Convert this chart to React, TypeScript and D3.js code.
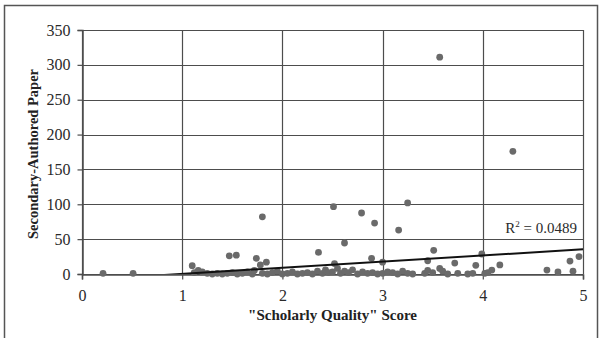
import React, { useEffect, useRef } from 'react';
import * as d3 from 'd3';

// scores on the x axis
const scores = [
  0.21, 0.51, 1.1, 1.16, 1.47, 1.54, 1.74, 1.78, 1.8, 1.84, 2.36, 2.51, 2.52, 2.62, 2.79, 2.89, 2.92,
  3.0, 3.16, 3.25, 3.45, 3.51, 3.57, 3.57, 3.72, 3.93, 3.99, 4.09, 4.17, 4.3, 4.64, 4.75, 4.87, 4.9, 4.96,
  1.12, 1.2, 1.25, 1.3, 1.35, 1.4, 1.45, 1.5, 1.55, 1.6, 1.65, 1.7, 1.72, 1.8, 1.85, 1.9, 1.95, 2.0,
  2.05, 2.1, 2.15, 2.2, 2.25, 2.3, 2.35, 2.4, 2.43, 2.46, 2.5, 2.55, 2.58, 2.62, 2.66, 2.7, 2.75, 2.8,
  2.85, 2.9, 2.95, 3.0, 3.05, 3.1, 3.15, 3.2, 3.25, 3.3, 3.42, 3.45, 3.5, 3.6, 3.65, 3.75, 3.85, 3.9,
  4.02, 4.05,
];
// secondary-authored papers
const papers = [
  1, 1, 12, 5, 26, 27, 22.5, 13, 82, 17, 31, 96.6, 15, 44.5, 87.5, 22.5, 73,
  17, 63, 102, 19, 34, 311, 8, 15.7, 12.5, 28.7, 5.7, 13, 176, 5.7, 3, 18.6, 4, 25,
  2, 3, 1, 0, 1, 0, 1, 2, 0, 1, 3, 0, 5, 1, 0, 2, 4, 0,
  1, 3, 0, 1, 2, 0, 4, 1, 6, 2, 3, 8, 1, 4, 2, 6, 0, 3,
  1, 2, 0, 1, 3, 2, 0, 4, 1, 0, 1, 5, 2, 4, 0, 1, 0, 1,
  1, 2,
];
const xTicks = [0, 1, 2, 3, 4, 5];
const yTicks = [0, 50, 100, 150, 200, 250, 300, 350];
// trendline as drawn (linear fit), and its R²
const trendX = [0.2, 5];
const trendY = [-6.9, 35.4];
const rSquared = '0.0489';

const App = () => {
  const ref = useRef<SVGSVGElement>(null);

  useEffect(() => {
    const width = 599;
    const height = 338;
    const margin = { top: 30, right: 16, bottom: 64, left: 82 };
    const svg = d3.select(ref.current);
    svg.selectAll('*').remove();

    const x = d3.scaleLinear().domain([0, 5]).range([margin.left, width - margin.right]);
    const y = d3.scaleLinear().domain([0, 350]).range([height - margin.bottom, margin.top]);
    const gridColor = '#4d4d4d';
    const font = '"Liberation Serif", "Times New Roman", serif';

    svg.append('rect').attr('width', width).attr('height', height).attr('fill', '#fff');
    // outer frame
    svg.append('rect')
      .attr('x', 4.5).attr('y', 5.5).attr('width', 593).attr('height', 340)
      .attr('fill', 'none').attr('stroke', '#555').attr('stroke-width', 1.5);

    // gridlines
    svg.append('g').selectAll('line').data(yTicks).enter().append('line')
      .attr('x1', x(0)).attr('x2', x(5))
      .attr('y1', d => Math.round(y(d)) + 0.5).attr('y2', d => Math.round(y(d)) + 0.5)
      .attr('stroke', gridColor).attr('stroke-width', 1.2);
    svg.append('g').selectAll('line').data(xTicks).enter().append('line')
      .attr('y1', y(0)).attr('y2', y(350))
      .attr('x1', d => Math.round(x(d)) + 0.5).attr('x2', d => Math.round(x(d)) + 0.5)
      .attr('stroke', gridColor).attr('stroke-width', 1.2);

    // axes
    const yAxis = svg.append('g')
      .attr('transform', `translate(${Math.round(x(0)) + 0.5},0)`)
      .call(d3.axisLeft(y).tickValues(yTicks).tickSize(5).tickPadding(7));
    const xAxis = svg.append('g')
      .attr('transform', `translate(0,${Math.round(y(0)) + 0.5})`)
      .call(d3.axisBottom(x).tickValues(xTicks).tickSize(5).tickPadding(10).tickFormat(d3.format('d')));
    [yAxis, xAxis].forEach(a => {
      a.select('.domain').attr('stroke', gridColor).attr('stroke-width', 1.5);
      a.selectAll('.tick line').attr('stroke', gridColor).attr('stroke-width', 1.2);
      a.selectAll('.tick text').attr('font-family', font).attr('font-size', 16).attr('fill', '#2a2a2a');
    });

    // points
    svg.append('g').selectAll('circle').data(scores).enter().append('circle')
      .attr('cx', d => x(d)).attr('cy', (d, i) => y(papers[i]))
      .attr('r', 3.4).attr('fill', '#6a6a6a');

    // trendline, clipped to the plot area
    svg.append('clipPath').attr('id', 'plotClip').append('rect')
      .attr('x', x(0)).attr('y', y(350)).attr('width', x(5) - x(0)).attr('height', y(0) - y(350));
    svg.append('path')
      .datum(trendX.map((d, i) => [d, trendY[i]] as [number, number]))
      .attr('clip-path', 'url(#plotClip)')
      .attr('d', d3.line().x(d => x(d[0])).y(d => y(d[1])))
      .attr('fill', 'none').attr('stroke', '#111').attr('stroke-width', 2);

    // R² label
    const r2 = svg.append('text')
      .attr('x', 577).attr('y', 233).attr('text-anchor', 'end')
      .attr('font-family', font).attr('font-size', 15).attr('fill', '#2a2a2a');
    r2.append('tspan').text('R');
    r2.append('tspan').attr('dy', -6).attr('font-size', 9).text('2');
    r2.append('tspan').attr('dy', 6).text(` = ${rSquared}`);

    // axis titles
    svg.append('text')
      .attr('x', (x(0) + x(5)) / 2).attr('y', 320).attr('text-anchor', 'middle')
      .attr('font-family', font).attr('font-size', 15).attr('font-weight', 'bold').attr('fill', '#222')
      .text('"Scholarly Quality" Score');
    svg.append('text')
      .attr('transform', `translate(38,${(y(0) + y(350)) / 2 + 2}) rotate(-90)`)
      .attr('text-anchor', 'middle')
      .attr('font-family', font).attr('font-size', 14.5).attr('font-weight', 'bold').attr('fill', '#222')
      .text('Secondary-Authored Paper');
  }, []);

  return (
    <svg ref={ref} width={599} height={338} style={{ position: 'absolute', left: 0, top: 0 }} />
  );
};

export default App;
